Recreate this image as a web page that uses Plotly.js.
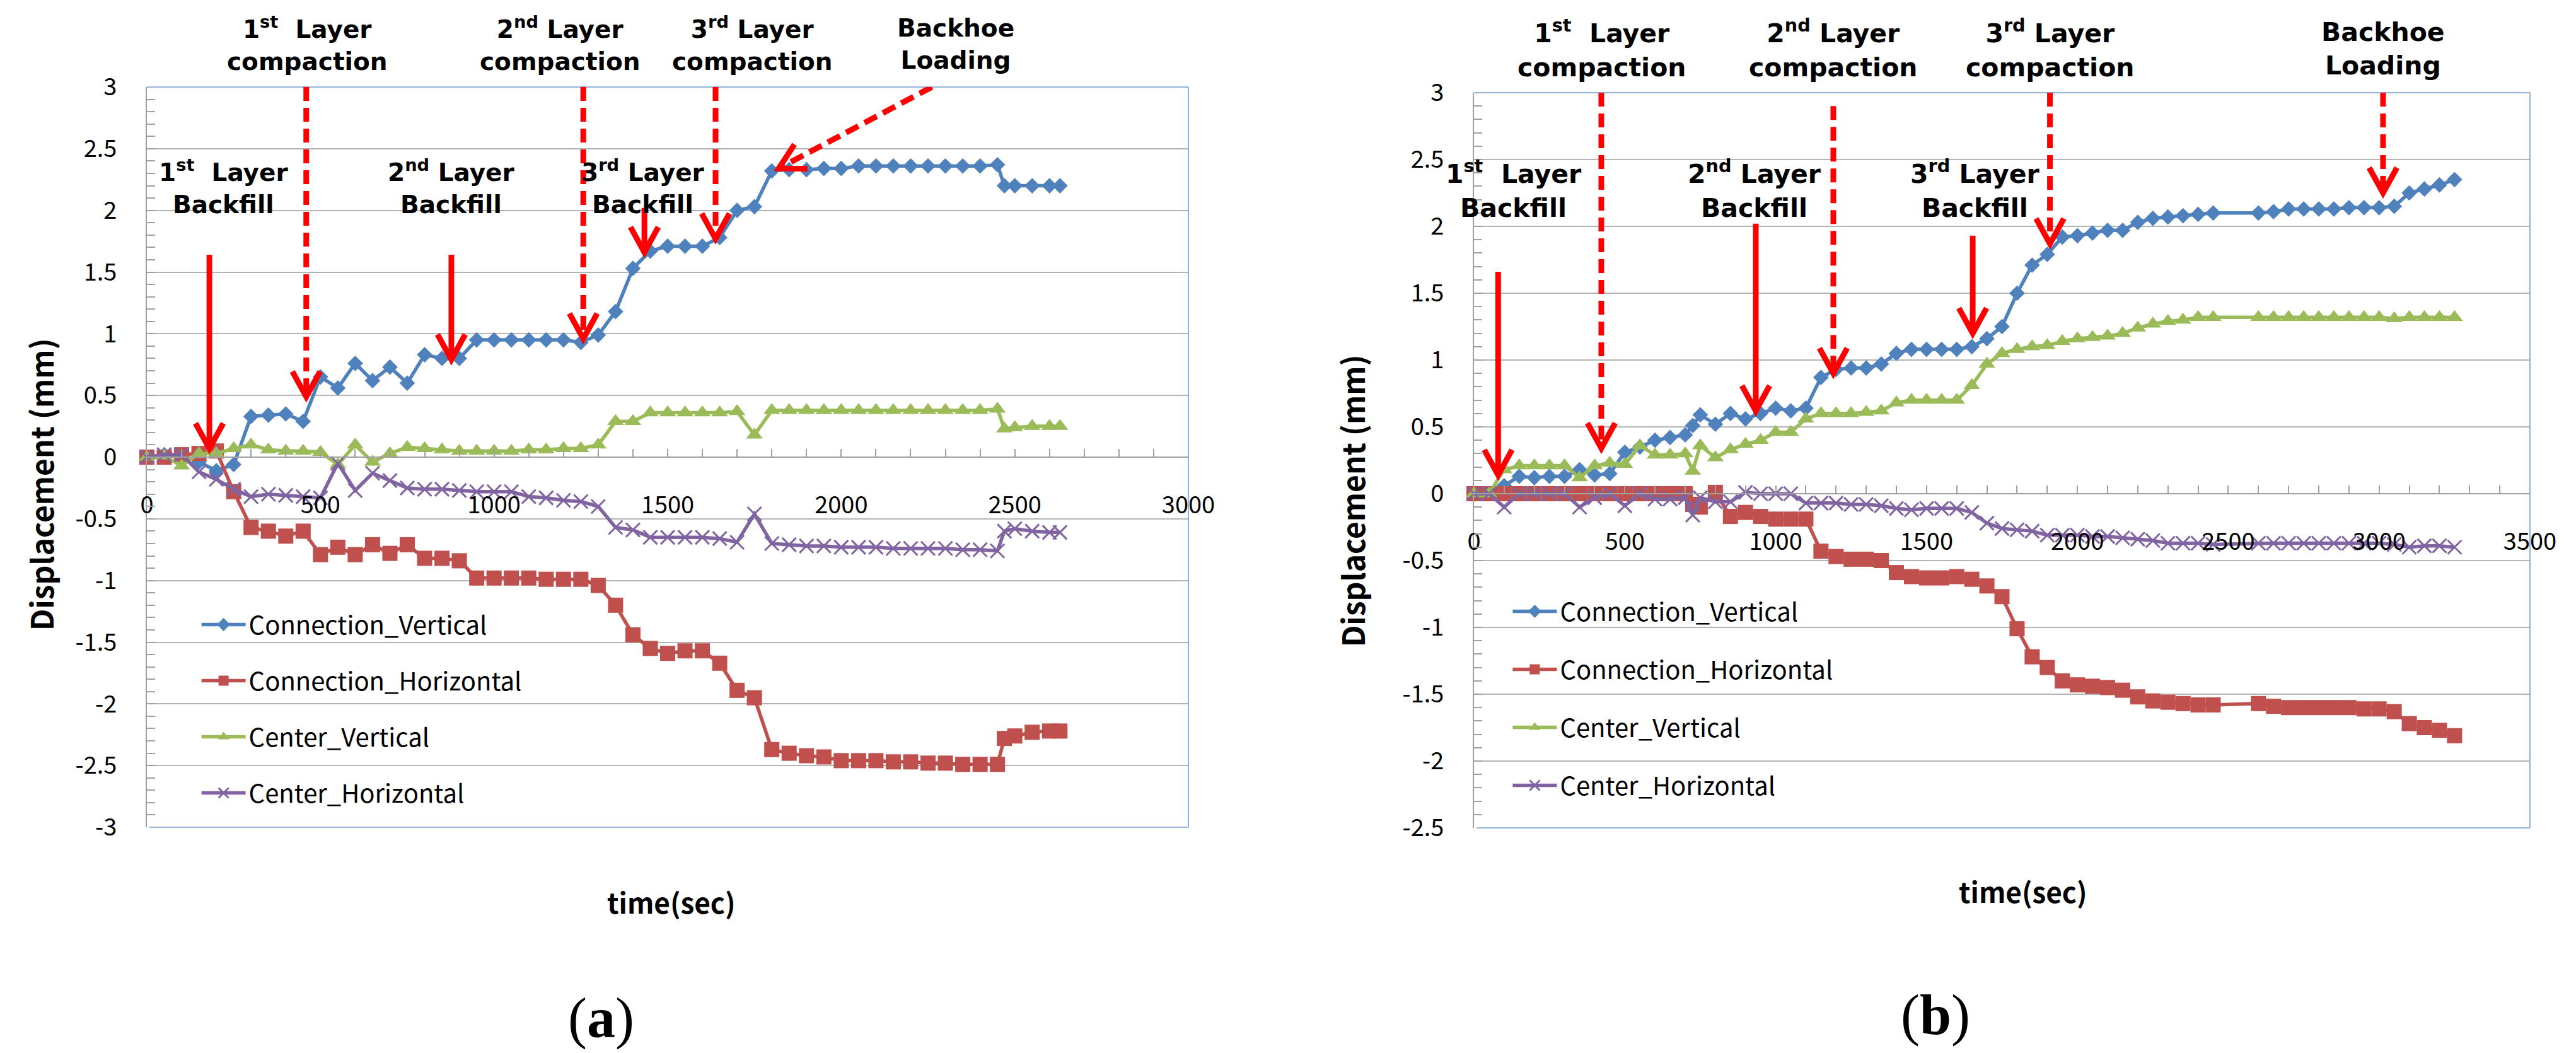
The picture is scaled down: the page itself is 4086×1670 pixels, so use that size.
<!DOCTYPE html>
<html><head><meta charset="utf-8">
<script src="https://cdn.plot.ly/plotly-3.0.1.min.js"></script>
<style>html,body{margin:0;padding:0;background:#fff;}#chart{width:4086px;height:1670px;}</style>
</head><body><div id="chart"></div>
<script>
// ---------- DATA: chart (a) ----------
const tA = [0,50,100,150,200,250,300,350,400,450,500,550,600,650,700,750,800,850,900,950,1000,1050,1100,1150,1200,1250,1300,1350,1400,1450,1500,1550,1600,1650,1700,1750,1800,1850,1900,1950,2000,2050,2100,2150,2200,2250,2300,2350,2400,2450,2470,2500,2550,2600,2630];
const connVertA = [0,0.02,0.02,-0.04,-0.11,-0.06,0.33,0.34,0.35,0.29,0.65,0.56,0.76,0.62,0.73,0.60,0.83,0.80,0.80,0.95,0.95,0.95,0.95,0.95,0.95,0.93,0.99,1.18,1.53,1.67,1.71,1.71,1.71,1.78,2.00,2.03,2.32,2.33,2.33,2.34,2.34,2.36,2.36,2.36,2.36,2.36,2.36,2.36,2.36,2.37,2.20,2.20,2.20,2.20,2.20];
const connHorA = [0,0,0.02,0.03,0.05,-0.28,-0.57,-0.60,-0.64,-0.60,-0.79,-0.73,-0.79,-0.71,-0.78,-0.71,-0.82,-0.82,-0.84,-0.98,-0.98,-0.98,-0.98,-0.99,-0.99,-0.99,-1.04,-1.20,-1.44,-1.55,-1.59,-1.57,-1.57,-1.67,-1.89,-1.95,-2.37,-2.40,-2.42,-2.43,-2.46,-2.46,-2.46,-2.47,-2.47,-2.48,-2.48,-2.49,-2.49,-2.49,-2.28,-2.26,-2.23,-2.22,-2.22];
const centVertA = [0,0.01,-0.07,0.03,0.03,0.07,0.10,0.06,0.05,0.05,0.04,-0.06,0.10,-0.04,0.03,0.08,0.07,0.06,0.05,0.05,0.05,0.05,0.06,0.06,0.07,0.07,0.10,0.29,0.29,0.36,0.36,0.36,0.36,0.36,0.37,0.18,0.38,0.38,0.38,0.38,0.38,0.38,0.38,0.38,0.38,0.38,0.38,0.38,0.38,0.39,0.23,0.24,0.25,0.25,0.25];
const centHorA = [0,0.02,0.02,-0.12,-0.18,-0.26,-0.32,-0.30,-0.31,-0.32,-0.33,-0.05,-0.27,-0.13,-0.19,-0.25,-0.26,-0.26,-0.27,-0.28,-0.28,-0.28,-0.32,-0.33,-0.35,-0.36,-0.40,-0.57,-0.59,-0.65,-0.65,-0.65,-0.65,-0.66,-0.69,-0.46,-0.70,-0.71,-0.72,-0.72,-0.73,-0.73,-0.73,-0.74,-0.74,-0.74,-0.74,-0.75,-0.75,-0.76,-0.60,-0.58,-0.60,-0.61,-0.61];

// ---------- DATA: chart (b) ----------
const tB = [0,50,100,150,200,250,300,350,400,450,500,550,600,650,700,725,750,800,850,900,950,1000,1050,1100,1150,1200,1250,1300,1350,1400,1450,1500,1550,1600,1650,1700,1750,1800,1850,1900,1950,2000,2050,2100,2150,2200,2250,2300,2350,2400,2450,2600,2650,2700,2750,2800,2850,2900,2950,3000,3050,3100,3150,3200,3250];
const connVertB = [0,0,0.06,0.13,0.12,0.13,0.13,0.18,0.14,0.15,0.31,0.35,0.40,0.42,0.44,0.51,0.59,0.52,0.60,0.56,0.60,0.64,0.62,0.64,0.87,0.93,0.94,0.94,0.97,1.05,1.08,1.08,1.08,1.08,1.10,1.16,1.25,1.50,1.71,1.79,1.92,1.93,1.95,1.97,1.97,2.03,2.06,2.07,2.08,2.09,2.10,2.10,2.11,2.13,2.13,2.13,2.13,2.14,2.14,2.14,2.15,2.25,2.28,2.31,2.35];
const connHorB = [0,0,0,0,0,0,0,0,0,0,0,0,0,0,0,-0.08,-0.10,0.01,-0.17,-0.14,-0.17,-0.19,-0.19,-0.19,-0.43,-0.47,-0.49,-0.49,-0.50,-0.59,-0.62,-0.63,-0.63,-0.62,-0.64,-0.69,-0.77,-1.01,-1.22,-1.30,-1.40,-1.43,-1.44,-1.45,-1.47,-1.52,-1.55,-1.56,-1.57,-1.58,-1.58,-1.57,-1.59,-1.60,-1.60,-1.60,-1.60,-1.60,-1.61,-1.61,-1.63,-1.72,-1.75,-1.77,-1.81];
const centVertB = [0,0,0.18,0.21,0.21,0.21,0.21,0.12,0.21,0.23,0.22,0.36,0.29,0.29,0.30,0.17,0.36,0.27,0.33,0.37,0.40,0.46,0.46,0.56,0.60,0.60,0.60,0.61,0.62,0.68,0.70,0.70,0.70,0.70,0.81,0.97,1.05,1.08,1.10,1.11,1.14,1.16,1.17,1.18,1.20,1.24,1.27,1.29,1.30,1.32,1.32,1.32,1.32,1.32,1.32,1.32,1.32,1.32,1.32,1.32,1.31,1.32,1.32,1.32,1.32];
const centHorB = [0,0,-0.10,0,0,0,0,-0.10,-0.03,0,-0.09,0,-0.04,-0.04,-0.03,-0.16,-0.03,-0.06,-0.06,0.01,0,0,0,-0.07,-0.07,-0.07,-0.08,-0.08,-0.09,-0.11,-0.12,-0.11,-0.11,-0.11,-0.14,-0.22,-0.26,-0.27,-0.28,-0.31,-0.31,-0.31,-0.32,-0.32,-0.33,-0.34,-0.35,-0.37,-0.37,-0.37,-0.38,-0.37,-0.37,-0.37,-0.37,-0.37,-0.37,-0.37,-0.37,-0.37,-0.38,-0.40,-0.39,-0.39,-0.40];

const seriesNames = ['Connection_Vertical','Connection_Horizontal','Center_Vertical','Center_Horizontal'];

// ---------- tick labels ----------
const yTickValsA = [-3,-2.5,-2,-1.5,-1,-0.5,0,0.5,1,1.5,2,2.5,3];
const yTickTextA = ['-3','-2.5','-2','-1.5','-1','-0.5','0','0.5','1','1.5','2','2.5','3'];
const yTickValsB = [-2.5,-2,-1.5,-1,-0.5,0,0.5,1,1.5,2,2.5,3];
const yTickTextB = ['-2.5','-2','-1.5','-1','-0.5','0','0.5','1','1.5','2','2.5','3'];
const xTickValsA = [0,500,1000,1500,2000,2500,3000];
const xTickTextA = ['0','500','1000','1500','2000','2500','3000'];
const xTickValsB = [0,500,1000,1500,2000,2500,3000,3500];
const xTickTextB = ['0','500','1000','1500','2000','2500','3000','3500'];

// ---------- event labels & arrows ----------
const S = '\u00A0';
const eventText = ['1<sup>st</sup>'+S+S+'Layer<br>Backfill','1<sup>st</sup>'+S+S+'Layer<br>compaction','2<sup>nd</sup>'+S+'Layer<br>Backfill','2<sup>nd</sup>'+S+'Layer<br>compaction','3<sup>rd</sup>'+S+'Layer<br>Backfill','3<sup>rd</sup>'+S+'Layer<br>compaction','Backhoe<br>Loading'];
const eventDashed = [false,true,false,true,false,true,true];
const labelXA = [220,461,877,1189,1429,1743,2330];
const labelYA = [2.19,3.35,2.19,3.35,2.19,3.35,3.35];
const arrowTailXA = [180,459,877,1257,1433,1638,2261];
const arrowTailYA = [1.64,3.0,1.64,3.0,2.02,3.0,3.0];
const arrowTipXA  = [180,459,877,1257,1433,1638,1820];
const arrowTipYA  = [0.07,0.49,0.79,0.96,1.66,1.77,2.34];
const labelXB = [132,424,930,1191,1661,1909,3013];
const labelYB = [2.28,3.33,2.28,3.33,2.28,3.33,3.33];
const arrowTailXB = [80,422,934,1191,1653,1909,3013];
const arrowTailYB = [1.66,3.0,2.02,2.90,1.93,3.0,3.0];
const arrowTipXB  = [80,422,934,1191,1653,1909,3013];
const arrowTipYB  = [0.14,0.34,0.62,0.90,1.20,1.87,2.25];

// ---------- styling ----------
const W = 4086, H = 1670;
const colors = ['#4F81BD','#C0504D','#9BBB59','#8064A2'];
const symbols = ['diamond','square','triangle-up','x-thin'];
const msizes = [19,24,23,22];
const domA = {x:[233/W,1885/W], y:[1-1312/H,1-138/H]};
const domB = {x:[2338/W,4013/W], y:[1-1313/H,1-147/H]};
const rXA=[0,3000], rYA=[-3,3], rXB=[0,3500], rYB=[-2.5,3];
const tickFont = {family:'Noto Sans CJK KR', size:38, color:'#000'};
const gridCol = '#B4B4B4', axCol = '#A0A0A0', borderCol = '#95B3D7';

function mkTraces(t, ys, xa, ya, lg, grp){
  return ys.map((y,i)=>({
    x:t, y:y, xaxis:xa, yaxis:ya, name:seriesNames[i], legend:lg, legendgroup:grp+i,
    type:'scatter', mode:'lines+markers', cliponaxis:false,
    line:{color:colors[i], width:5.5},
    marker:{symbol:symbols[i], size:msizes[i], color:colors[i],
      line:{color:colors[i], width: i===3 ? 3 : 0}}
  }));
}
const traces = mkTraces(tA,[connVertA,connHorA,centVertA,centHorA],'x','y','legend','a')
  .concat(mkTraces(tB,[connVertB,connHorB,centVertB,centHorB],'x2','y2','legend2','b'));

function xAx(dom, range, ydom, yrange, tv, tt){
  const pos = ydom[0] + (0-yrange[0])/(yrange[1]-yrange[0])*(ydom[1]-ydom[0]);
  return {domain:dom, range:range, anchor:'free', position:pos, tickmode:'array', tickvals:tv, ticktext:tt,
    ticks:'inside', ticklen:12, tickwidth:2, tickcolor:axCol, showline:true, linecolor:axCol, linewidth:2,
    showgrid:false, zeroline:false, tickfont:tickFont, ticklabelstandoff:42,
    minor:{tickmode:'linear', tick0:0, dtick:100, ticks:'inside', ticklen:12, tickwidth:2, tickcolor:axCol, showgrid:false}};
}
function yAx(dom, range, xa, tv, tt){
  return {domain:dom, range:range, anchor:xa, tickmode:'array', tickvals:tv, ticktext:tt,
    ticks:'inside', ticklen:13, tickwidth:2, tickcolor:axCol, showline:true, linecolor:axCol, linewidth:2,
    showgrid:true, gridcolor:gridCol, gridwidth:2, zeroline:false, tickfont:tickFont, ticklabelstandoff:38,
    minor:{tickmode:'linear', tick0:0, dtick:0.1, ticks:'inside', ticklen:13, tickwidth:2, tickcolor:axCol, showgrid:false}};
}

function borders(dom){
  const l = {color:borderCol, width:2};
  const x0=dom.x[0], x1=dom.x[1], y0=dom.y[0], y1=dom.y[1];
  return [
    {type:'line', xref:'paper', yref:'paper', x0:x0, x1:x1, y0:y1, y1:y1, line:l},
    {type:'line', xref:'paper', yref:'paper', x0:x1, x1:x1, y0:y0, y1:y1, line:l},
    {type:'line', xref:'paper', yref:'paper', x0:x0+0.001, x1:x1, y0:y0, y1:y0, line:l}
  ];
}
function arrows(xr, yr, tx, ty, px, py, dom, rx, ry){
  const pxX = (dom.x[1]-dom.x[0])*W/(rx[1]-rx[0]);
  const pxY = (dom.y[1]-dom.y[0])*H/(ry[1]-ry[0]);
  const out = [];
  for(let i=0;i<tx.length;i++){
    out.push({type:'line', xref:xr, yref:yr, x0:tx[i], y0:ty[i], x1:px[i], y1:py[i],
      line:{color:'#FF0000', width:9, dash: eventDashed[i] ? '22px,11px' : 'solid'}});
    const dx=(px[i]-tx[i])*pxX, dy=(py[i]-ty[i])*pxY, len=Math.hypot(dx,dy);
    const ux=dx/len, uy=dy/len, bx=-ux*40, by=-uy*40, nx=-uy*22, ny=ux*22;
    out.push({type:'path', xref:xr, yref:yr, xsizemode:'pixel', ysizemode:'pixel', xanchor:px[i], yanchor:py[i],
      path:'M'+(bx+nx).toFixed(1)+','+(by+ny).toFixed(1)+' L0,0 L'+(bx-nx).toFixed(1)+','+(by-ny).toFixed(1),
      line:{color:'#FF0000', width:9}});
  }
  return out;
}
function labels(xr, lx, ly, size, dom, ry){
  return lx.map((x,i)=>({xref:xr, yref:'paper', x:x,
    y: dom.y[0] + (ly[i]-ry[0])/(ry[1]-ry[0])*(dom.y[1]-dom.y[0]),
    text:eventText[i], showarrow:false, xanchor:'center', yanchor:'middle', align:'center',
    font:{family:'DejaVu Sans', size:size, weight:'bold', color:'#000'}}));
}
const titleFont = {family:'Noto Sans CJK KR', size:48, weight:'bold', color:'#000'};
const xtFont = {family:'Noto Sans CJK KR', size:44, weight:'bold', color:'#000'};
const annotations = labels('x',labelXA,labelYA,39,domA,rYA).concat(labels('x2',labelXB,labelYB,41,domB,rYB)).concat([
  {xref:'paper', yref:'paper', x:64/W, y:1-768/H, text:'Displacement (mm)', textangle:-90, showarrow:false, xanchor:'center', yanchor:'middle', font:titleFont},
  {xref:'paper', yref:'paper', x:2144/W, y:1-794/H, text:'Displacement (mm)', textangle:-90, showarrow:false, xanchor:'center', yanchor:'middle', font:titleFont},
  {xref:'paper', yref:'paper', x:1065/W, y:1-1430/H, text:'time(sec)', showarrow:false, xanchor:'center', yanchor:'middle', font:xtFont},
  {xref:'paper', yref:'paper', x:3209/W, y:1-1413/H, text:'time(sec)', showarrow:false, xanchor:'center', yanchor:'middle', font:xtFont},
  {xref:'paper', yref:'paper', x:953/W, y:1-1615/H, text:'(<b>a</b>)', showarrow:false, xanchor:'center', yanchor:'middle', font:{family:'Liberation Serif', size:90, color:'#000'}},
  {xref:'paper', yref:'paper', x:3070/W, y:1-1610/H, text:'(<b>b</b>)', showarrow:false, xanchor:'center', yanchor:'middle', font:{family:'Liberation Serif', size:90, color:'#000'}}
]);
const legendBase = {xanchor:'left', yanchor:'top', bgcolor:'rgba(0,0,0,0)', borderwidth:0,
  font:{family:'Noto Sans CJK KR', size:40, color:'#000'}, itemwidth:70, traceorder:'grouped', tracegroupgap:34};

const layout = {
  width:W, height:H, margin:{l:0,r:0,t:0,b:0}, paper_bgcolor:'#fff', plot_bgcolor:'#fff',
  showlegend:true,
  xaxis: xAx(domA.x, rXA, domA.y, rYA, xTickValsA, xTickTextA),
  yaxis: yAx(domA.y, rYA, 'x', yTickValsA, yTickTextA),
  xaxis2: xAx(domB.x, rXB, domB.y, rYB, xTickValsB, xTickTextB),
  yaxis2: yAx(domB.y, rYB, 'x2', yTickValsB, yTickTextB),
  legend: Object.assign({}, legendBase, {x:0.077, y:1-958/H}),
  legend2: Object.assign({}, legendBase, {x:0.586, y:1-937/H, tracegroupgap:37}),
  shapes: borders(domA).concat(borders(domB))
    .concat(arrows('x','y',arrowTailXA,arrowTailYA,arrowTipXA,arrowTipYA,domA,rXA,rYA))
    .concat(arrows('x2','y2',arrowTailXB,arrowTailYB,arrowTipXB,arrowTipYB,domB,rXB,rYB)),
  annotations: annotations
};
Plotly.newPlot('chart', traces, layout, {staticPlot:true, displayModeBar:false});
</script></body></html>
